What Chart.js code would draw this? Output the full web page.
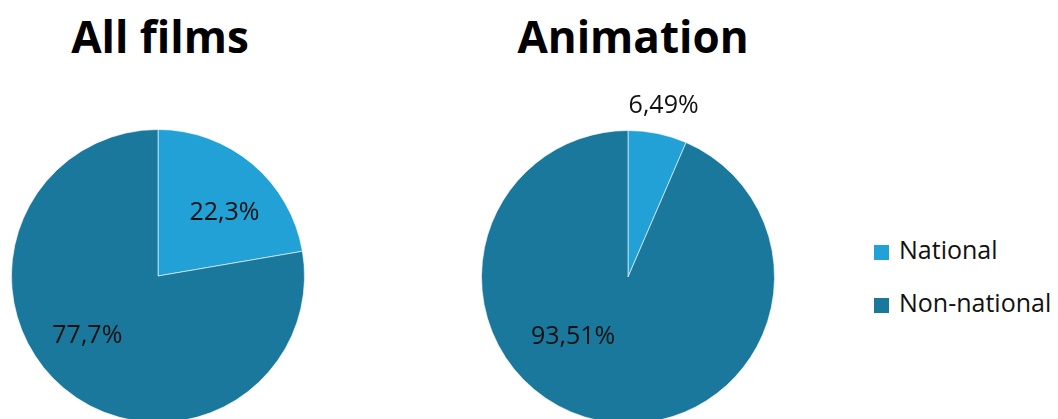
<!DOCTYPE html>
<html>
<head>
    <title>National vs non-national films</title>
    <script src="https://cdn.jsdelivr.net/npm/chart.js@4.4.1/dist/chart.umd.min.js"></script>
    <style>
        html, body {
            margin: 0;
            padding: 0;
            width: 1058px;
            height: 419px;
            overflow: hidden;
            background: #ffffff;
            font-family: "Open Sans", Arial, sans-serif;
        }
        .title {
            position: absolute;
            top: 0;
            font-size: 44px;
            font-weight: bold;
            color: #000;
            line-height: 72px;
            text-align: center;
            width: 320px;
        }
        canvas { position: absolute; }
        .legend {
            position: absolute;
            left: 874px;
            top: 232px;
            font-size: 25px;
            color: #111;
        }
        .legend div { height: 53px; line-height: 34px; }
        .legend span {
            display: inline-block;
            width: 15px;
            height: 15px;
            margin-right: 10px;
            vertical-align: -1px;
        }
    </style>
</head>
<body>
    <div class="title" id="t0" style="left:0px;"></div>
    <div class="title" id="t1" style="left:473px;"></div>
    <canvas id="pie0" width="374" height="414" style="left:-29px; top:69px;"></canvas>
    <canvas id="pie1" width="374" height="414" style="left:441px; top:70px;"></canvas>
    <div class="legend" id="legend"></div>
    <script>
        const titles = ['All films', 'Animation'];
        const categories = ['National', 'Non-national'];
        const nationalShare = [22.3, 6.49];
        const nonNationalShare = [77.7, 93.51];
        const colors = ['#21a1d5', '#1a789c'];

        // label placement per chart: [national, non-national], radius as fraction of pie radius
        const labelPlacement = [
            [{ r: 0.63, angle: -44 }, { r: 0.63, angle: 140 }],
            [{ r: 1.2 }, { r: 0.55, angle: 133 }]
        ];

        const fmt = v => String(v).replace('.', ',') + '%';

        const sliceLabels = {
            id: 'sliceLabels',
            afterDatasetsDraw(chart) {
                const ctx = chart.ctx;
                const meta = chart.getDatasetMeta(0);
                const place = labelPlacement[chart.options.plugins.sliceLabels.index];
                ctx.save();
                ctx.font = '25px "Open Sans", Arial, sans-serif';
                ctx.fillStyle = '#111';
                ctx.textAlign = 'center';
                ctx.textBaseline = 'middle';
                meta.data.forEach((arc, i) => {
                    const p = place[i];
                    const mid = p.angle !== undefined ? p.angle * Math.PI / 180
                        : (arc.startAngle + arc.endAngle) / 2;
                    const rr = arc.outerRadius * p.r;
                    const x = arc.x + Math.cos(mid) * rr;
                    const y = arc.y + Math.sin(mid) * rr;
                    ctx.fillText(fmt(chart.data.datasets[0].data[i]), x, y + 1);
                });
                ctx.restore();
            }
        };

        function createPie(id, index) {
            return new Chart(document.getElementById(id).getContext('2d'), {
                type: 'pie',
                data: {
                    labels: categories,
                    datasets: [{
                        data: [nationalShare[index], nonNationalShare[index]],
                        backgroundColor: colors,
                        borderColor: 'rgba(255,255,255,0.6)',
                        borderWidth: 1
                    }]
                },
                options: {
                    responsive: false,
                    animation: false,
                    layout: {
                        padding: { left: 40, right: 40, top: 60, bottom: 60 }
                    },
                    plugins: {
                        legend: { display: false },
                        tooltip: { enabled: false },
                        sliceLabels: { index: index }
                    }
                },
                plugins: [sliceLabels]
            });
        }

        document.getElementById('t0').textContent = titles[0];
        document.getElementById('t1').textContent = titles[1];

        const legend = document.getElementById('legend');
        categories.forEach((c, i) => {
            const row = document.createElement('div');
            row.innerHTML = '<span style="background:' + colors[i] + '"></span>' + c;
            legend.appendChild(row);
        });

        createPie('pie0', 0);
        createPie('pie1', 1);
    </script>
</body>
</html>
